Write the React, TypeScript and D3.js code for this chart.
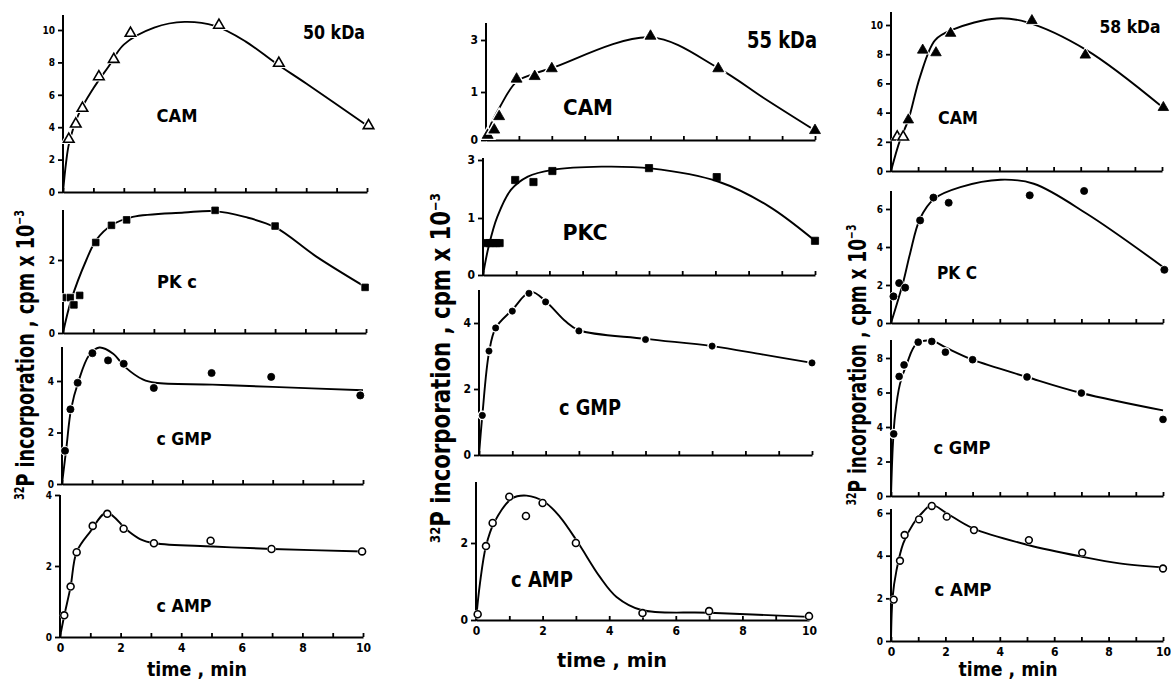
import { useEffect, useRef } from 'react';
import * as d3 from 'd3';

const FONT = "'DejaVu Sans Condensed', 'DejaVu Sans', 'Liberation Sans', sans-serif";

type Pt = [number, number];
type Marker = 'triOpen' | 'triFill' | 'sqFill' | 'dotFill' | 'dotOpen';

// time axis (min)
const minuteTicks = [0, 1, 2, 3, 4, 5, 6, 7, 8, 9, 10];
const timeLabels = [0, 2, 4, 6, 8, 10];

// y tick labels
const ticks0to10 = [0, 2, 4, 6, 8, 10];
const ticks0to8 = [0, 2, 4, 6, 8];
const ticks0to6 = [0, 2, 4, 6];
const ticks0to4 = [0, 2, 4];
const ticks0to2 = [0, 2];
const ticks013 = [0, 1, 3];

// ---- 50 kDa ----  [time, cpm x 10^-3]
const cam50: Pt[] = [[0.19, 3.26], [0.42, 4.2], [0.64, 5.17], [1.18, 7.12], [1.67, 8.19], [2.22, 9.8], [5.13, 10.3], [7.1, 7.95], [10.05, 4.1]];
const cam50Fit: Pt[] = [[0, 0], [0.1, 1.8], [0.2, 3.0], [0.5, 4.75], [1, 6.4], [1.5, 7.75], [2, 9.1], [3, 10.15], [4, 10.5], [5, 10.25], [6, 9.3], [7, 7.95], [8, 6.7], [10, 4.1]];
const pkc50: Pt[] = [[0.11, 0.97], [0.24, 0.97], [0.36, 0.77], [0.55, 1.03], [1.08, 2.48], [1.6, 2.95], [2.1, 3.1], [5.02, 3.36], [7.0, 2.93], [9.97, 1.25]];
const pkc50Fit: Pt[] = [[0, 0], [0.27, 0.9], [0.77, 2.0], [1.1, 2.55], [1.6, 2.95], [2.3, 3.18], [4, 3.3], [5, 3.34], [6, 3.18], [7, 2.9], [8.35, 2.1], [10, 1.25]];
const cgmp50: Pt[] = [[0.1, 1.29], [0.28, 2.9], [0.52, 3.93], [1.01, 5.08], [1.53, 4.8], [2.05, 4.67], [3.05, 3.73], [4.97, 4.31], [6.95, 4.16], [9.91, 3.44]];
const cgmp50Fit: Pt[] = [[0, 0], [0.15, 1.45], [0.3, 2.9], [0.55, 4.0], [0.9, 5.0], [1.24, 5.3], [1.7, 5.06], [2.1, 4.54], [2.7, 4.05], [3.1, 3.93], [5, 3.86], [7, 3.77], [10, 3.64]];
const camp50: Pt[] = [[0.14, 0.61], [0.35, 1.42], [0.55, 2.39], [1.08, 3.13], [1.56, 3.47], [2.1, 3.05], [3.1, 2.64], [4.97, 2.71], [6.98, 2.48], [9.97, 2.41]];
const camp50Fit: Pt[] = [[0, 0], [0.14, 0.6], [0.35, 1.42], [0.55, 2.4], [1.0, 2.97], [1.54, 3.5], [2.2, 3.02], [2.64, 2.76], [3.13, 2.64], [5.05, 2.55], [7, 2.48], [10, 2.41]];

// ---- 55 kDa ----
const cam55: Pt[] = [[0.05, 0.1], [0.25, 0.21], [0.4, 0.49], [0.93, 1.5], [1.48, 1.6], [2.0, 1.9], [5.0, 3.15], [7.06, 1.9], [10, 0.2]];
const cam55Fit: Pt[] = [[0, 0], [0.12, 0.28], [0.43, 0.7], [0.93, 1.4], [1.44, 1.69], [2, 1.92], [5, 3.1], [7.06, 1.92], [8.5, 0.85], [10, 0.2]];
const pkc55: Pt[] = [[0.1, 0.56], [0.2, 0.56], [0.3, 0.56], [0.4, 0.56], [0.5, 0.56], [0.97, 2.31], [1.52, 2.24], [2.09, 2.62], [5.0, 2.72], [7.04, 2.41], [10, 0.6]];
const pkc55Fit: Pt[] = [[0, 0], [0.17, 0.5], [0.43, 1.04], [0.84, 1.97], [1.35, 2.43], [2.1, 2.66], [3.57, 2.77], [5.05, 2.71], [7.1, 2.25], [8.6, 1.41], [10, 0.6]];
const cgmp55: Pt[] = [[0.1, 1.2], [0.3, 3.15], [0.5, 3.85], [1, 4.36], [1.5, 4.9], [2, 4.64], [3, 3.76], [5, 3.5], [7, 3.3], [10, 2.79]];
const cgmp55Fit: Pt[] = [[0, 0], [0.1, 1.2], [0.3, 3.1], [0.5, 3.85], [1, 4.4], [1.55, 4.95], [2, 4.66], [2.6, 4.05], [3, 3.78], [5, 3.52], [7, 3.3], [8.5, 3.05], [10, 2.79]];
const camp55: Pt[] = [[0.05, 0.15], [0.3, 1.92], [0.5, 2.52], [1, 3.2], [1.5, 2.7], [2, 3.04], [3, 2.0], [5, 0.18], [7, 0.23], [10, 0.1]];
const camp55Fit: Pt[] = [[0, 0], [0.12, 0.96], [0.3, 1.92], [0.54, 2.52], [1.07, 3.15], [1.52, 3.23], [2.07, 3.06], [2.52, 2.68], [3.07, 2.0], [3.72, 1.12], [4.22, 0.6], [4.97, 0.26], [7, 0.19], [10, 0.08]];

// ---- 58 kDa ----
const cam58: Pt[] = [[0.23, 2.33], [0.45, 2.33], [0.64, 3.5], [1.17, 8.28], [1.66, 8.1], [2.2, 9.43], [5.2, 10.3], [7.17, 7.94], [10.05, 4.35]];
const cam58Open = [true, true, false, false, false, false, false, false, false];
const cam58Fit: Pt[] = [[0, 0], [0.33, 2.1], [0.64, 3.5], [1.07, 6.45], [1.63, 8.97], [2.3, 9.7], [3.9, 10.45], [5, 10.2], [7.2, 8.3], [10, 4.4]];
const pkc58: Pt[] = [[0.09, 1.4], [0.3, 2.1], [0.52, 1.86], [1.07, 5.4], [1.56, 6.6], [2.12, 6.33], [5.1, 6.72], [7.1, 6.95], [10.05, 2.8]];
const pkc58Fit: Pt[] = [[0, 0], [0.45, 2.16], [0.7, 3.65], [1.07, 5.5], [1.6, 6.55], [2.55, 7.15], [4.03, 7.54], [5.25, 7.33], [7.2, 5.75], [10, 2.95]];
const cgmp58: Pt[] = [[0.1, 3.6], [0.3, 6.93], [0.48, 7.6], [1, 8.92], [1.5, 8.96], [2, 8.34], [3, 7.9], [5, 6.9], [7, 5.97], [10, 4.44]];
const cgmp58Fit: Pt[] = [[0, 0], [0.07, 3.0], [0.15, 4.7], [0.33, 6.5], [0.58, 7.66], [0.94, 8.82], [1.5, 9.0], [2.02, 8.6], [3, 7.9], [5, 6.9], [7, 5.97], [10, 4.96]];
const camp58: Pt[] = [[0.1, 1.94], [0.33, 3.76], [0.5, 4.97], [1.03, 5.7], [1.5, 6.33], [2.05, 5.83], [3.05, 5.2], [5.07, 4.73], [7.03, 4.14], [10, 3.4]];
const camp58Fit: Pt[] = [[0, 0], [0.06, 2.07], [0.2, 3.3], [0.45, 4.58], [0.82, 5.5], [1.19, 6.07], [1.5, 6.38], [2.05, 5.99], [3.02, 5.28], [5.04, 4.5], [7.03, 3.95], [8.4, 3.64], [10, 3.45]];

// panel layout: pixel positions of the printed axes
interface Panel {
    pts: Pt[]; fit: Pt[]; marker: Marker; size: number; halo: number; openMask?: boolean[];
    xPix: [number, number];
    yKnots: number[]; yPix: number[]; top: number;
    yTicks: number[]; tickFs: number;
    name: string; nameX: number; nameY: number; nameFs: number; nameLen: number;
    bottom?: boolean;
}

const PANELS: Panel[] = [
    // 50 kDa
    { pts: cam50, fit: cam50Fit, marker: 'triOpen', size: 48, halo: 3.5, xPix: [63, 367], yKnots: [0, 10], yPix: [192, 30], top: 15, yTicks: ticks0to10, tickFs: 10, name: 'CAM', nameX: 177, nameY: 122, nameFs: 18, nameLen: 41 },
    { pts: pkc50, fit: pkc50Fit, marker: 'sqFill', size: 44, halo: 2, xPix: [63, 366], yKnots: [0, 2], yPix: [333, 260], top: 210, yTicks: ticks0to2, tickFs: 10, name: 'PK c', nameX: 177, nameY: 288, nameFs: 18, nameLen: 40 },
    { pts: cgmp50, fit: cgmp50Fit, marker: 'dotFill', size: 40, halo: 2.5, xPix: [62, 363], yKnots: [0, 4], yPix: [484, 381], top: 347, yTicks: ticks0to4, tickFs: 10, name: 'c GMP', nameX: 184, nameY: 445, nameFs: 18, nameLen: 55 },
    { pts: camp50, fit: camp50Fit, marker: 'dotOpen', size: 38, halo: 2, xPix: [60, 363], yKnots: [0, 4], yPix: [637, 495], top: 495, yTicks: ticks0to4, tickFs: 10, name: 'c AMP', nameX: 184, nameY: 612, nameFs: 18, nameLen: 55, bottom: true },
    // 55 kDa
    { pts: cam55, fit: cam55Fit, marker: 'triFill', size: 52, halo: 3.5, xPix: [486, 815], yKnots: [0, 1, 3], yPix: [140, 92, 40], top: 23, yTicks: ticks013, tickFs: 12, name: 'CAM', nameX: 588, nameY: 115, nameFs: 21, nameLen: 50 },
    { pts: pkc55, fit: pkc55Fit, marker: 'sqFill', size: 52, halo: 0, xPix: [483, 815], yKnots: [0, 1, 3], yPix: [275, 218, 160], top: 158, yTicks: ticks013, tickFs: 12, name: 'PKC', nameX: 585, nameY: 240, nameFs: 21, nameLen: 45 },
    { pts: cgmp55, fit: cgmp55Fit, marker: 'dotFill', size: 30, halo: 3.5, xPix: [479, 812], yKnots: [0, 4], yPix: [455, 323], top: 290, yTicks: ticks0to4, tickFs: 12, name: 'c GMP', nameX: 590, nameY: 415, nameFs: 21, nameLen: 62 },
    { pts: camp55, fit: camp55Fit, marker: 'dotOpen', size: 38, halo: 2, xPix: [476, 809], yKnots: [0, 2], yPix: [620, 543], top: 482, yTicks: ticks0to2, tickFs: 12, name: 'c AMP', nameX: 542, nameY: 587, nameFs: 21, nameLen: 62, bottom: true },
    // 58 kDa
    { pts: cam58, fit: cam58Fit, marker: 'triFill', size: 48, halo: 2.5, openMask: cam58Open, xPix: [891, 1162], yKnots: [0, 10], yPix: [171, 25], top: 12, yTicks: ticks0to10, tickFs: 10, name: 'CAM', nameX: 958, nameY: 124, nameFs: 18, nameLen: 40 },
    { pts: pkc58, fit: pkc58Fit, marker: 'dotFill', size: 40, halo: 2, xPix: [891, 1163], yKnots: [0, 6], yPix: [323, 209], top: 191, yTicks: ticks0to6, tickFs: 10, name: 'PK C', nameX: 957, nameY: 279, nameFs: 18, nameLen: 40 },
    { pts: cgmp58, fit: cgmp58Fit, marker: 'dotFill', size: 36, halo: 3.5, xPix: [891, 1163], yKnots: [0, 8], yPix: [496, 358], top: 340, yTicks: ticks0to8, tickFs: 10, name: 'c GMP', nameX: 962, nameY: 454, nameFs: 18, nameLen: 57 },
    { pts: camp58, fit: camp58Fit, marker: 'dotOpen', size: 36, halo: 2, xPix: [891, 1163], yKnots: [0, 6], yPix: [641, 513], top: 509, yTicks: ticks0to6, tickFs: 10, name: 'c AMP', nameX: 963, nameY: 596, nameFs: 18, nameLen: 57, bottom: true },
];

// column titles and axis captions
const COLUMNS = [
    { title: '50 kDa', tx: 334, ty: 39, tfs: 19, tlen: 62, yx: 34, yc: 355, ylen: 290, yfs: 24, timeX: 197, timeY: 676, timeLen: 100 },
    { title: '55 kDa', tx: 782, ty: 48, tfs: 23, tlen: 70, yx: 450, yc: 368, ylen: 350, yfs: 26, timeX: 612, timeY: 667, timeLen: 110 },
    { title: '58 kDa', tx: 1130, ty: 33, tfs: 18, tlen: 61, yx: 866, yc: 365, ylen: 281, yfs: 24, timeX: 1008, timeY: 676, timeLen: 99 },
];

const SHAPES: Record<Marker, d3.SymbolType> = {
    triOpen: d3.symbolTriangle,
    triFill: d3.symbolTriangle,
    sqFill: d3.symbolSquare,
    dotFill: d3.symbolCircle,
    dotOpen: d3.symbolCircle,
};

export default function App() {
    const svgRef = useRef<SVGSVGElement | null>(null);

    useEffect(() => {
        if (!svgRef.current) return;
        const svg = d3.select(svgRef.current);
        svg.selectAll('*').remove();

        PANELS.forEach((p) => {
            const x = d3.scaleLinear().domain([0, 10]).range(p.xPix);
            const y = d3.scaleLinear().domain(p.yKnots).range(p.yPix);
            const g = svg.append('g');

            // x axis, minute ticks pointing inward
            const xAxis = g.append('g')
                .attr('transform', `translate(0,${y(0)})`)
                .call(
                    d3.axisBottom(x)
                        .tickValues(minuteTicks)
                        .tickSizeInner(-4)
                        .tickSizeOuter(0)
                        .tickPadding(6)
                        .tickFormat((d) => (p.bottom && timeLabels.includes(+d) ? String(d) : ''))
                );
            xAxis.select('.domain').attr('stroke-width', 2);
            xAxis.selectAll('.tick line').attr('stroke-width', 1.8);
            xAxis.selectAll('text')
                .style('font-family', FONT).style('font-weight', 'bold').style('font-size', '12px').attr('fill', '#000');

            // y axis
            const yAxis = g.append('g')
                .attr('transform', `translate(${x(0)},0)`)
                .call(d3.axisLeft(y).tickValues(p.yTicks).tickSize(5).tickPadding(3).tickFormat((d) => String(d)));
            yAxis.select('.domain').remove();
            yAxis.selectAll('.tick line').attr('stroke-width', 1.8);
            yAxis.selectAll('text')
                .style('font-family', FONT).style('font-weight', 'bold').style('font-size', `${p.tickFs}px`).attr('fill', '#000');
            g.append('line')
                .attr('x1', x(0)).attr('x2', x(0))
                .attr('y1', y(0) + 1).attr('y2', p.top)
                .attr('stroke', '#000').attr('stroke-width', 2);

            // fitted curve
            const line = d3.line<Pt>()
                .x((d) => x(d[0]))
                .y((d) => y(d[1]))
                .curve(d3.curveCatmullRom.alpha(0.5));
            g.append('path')
                .attr('d', line(p.fit) ?? '')
                .attr('fill', 'none')
                .attr('stroke', '#000')
                .attr('stroke-width', 1.9);

            // data points, with a white halo that breaks the curve like the print
            const sym = d3.symbol().type(SHAPES[p.marker]).size(p.size);
            const baseOpen = p.marker.endsWith('Open');
            p.pts.forEach((d, i) => {
                const open = p.openMask ? p.openMask[i] : baseOpen;
                const tr = `translate(${x(d[0])},${y(d[1])})`;
                if (p.halo > 0) {
                    g.append('path').attr('d', sym() ?? '').attr('transform', tr)
                        .attr('fill', '#fff').attr('stroke', '#fff').attr('stroke-width', p.halo);
                }
                g.append('path').attr('d', sym() ?? '').attr('transform', tr)
                    .attr('fill', open ? '#fff' : '#000')
                    .attr('stroke', '#000')
                    .attr('stroke-width', open ? 1.6 : 0.8);
            });

            // series name
            g.append('text')
                .attr('x', p.nameX).attr('y', p.nameY)
                .attr('text-anchor', 'middle')
                .attr('textLength', p.nameLen).attr('lengthAdjust', 'spacingAndGlyphs')
                .style('font-family', FONT).style('font-weight', 'bold').style('font-size', `${p.nameFs}px`)
                .text(p.name);
        });

        COLUMNS.forEach((c) => {
            svg.append('text')
                .attr('x', c.tx).attr('y', c.ty)
                .attr('text-anchor', 'middle')
                .attr('textLength', c.tlen).attr('lengthAdjust', 'spacingAndGlyphs')
                .style('font-family', FONT).style('font-weight', 'bold').style('font-size', `${c.tfs}px`)
                .text(c.title);

            svg.append('text')
                .attr('x', c.timeX).attr('y', c.timeY)
                .attr('text-anchor', 'middle')
                .attr('textLength', c.timeLen).attr('lengthAdjust', 'spacingAndGlyphs')
                .style('font-family', FONT).style('font-weight', 'bold').style('font-size', '20px')
                .text('time , min');

            const yl = svg.append('text')
                .attr('transform', `translate(${c.yx},${c.yc}) rotate(-90)`)
                .attr('text-anchor', 'middle')
                .attr('textLength', c.ylen).attr('lengthAdjust', 'spacingAndGlyphs')
                .style('font-family', FONT).style('font-weight', 'bold').style('font-size', `${c.yfs}px`);
            const sup = c.yfs * 0.55;
            const up = c.yfs * 0.4;
            yl.append('tspan').style('font-size', `${sup}px`).attr('dy', -up).text('32');
            yl.append('tspan').attr('dy', up).text('P incorporation , cpm x 10');
            yl.append('tspan').style('font-size', `${sup}px`).attr('dy', -up).text('−3');
        });
    }, []);

    return (
        <div style={{ position: 'absolute', left: 0, top: 0 }}>
            <svg ref={svgRef} width={1171} height={682} style={{ display: 'block', background: '#fff' }} />
        </div>
    );
}
